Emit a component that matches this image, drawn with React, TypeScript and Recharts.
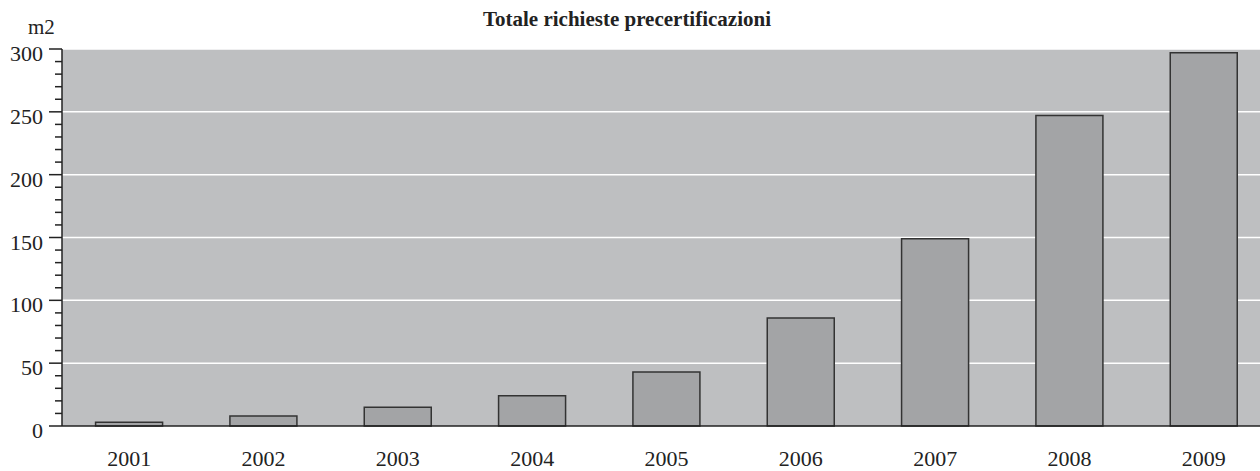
import { BarChart, Bar, XAxis, YAxis, CartesianGrid } from 'recharts';

const years = ['2001', '2002', '2003', '2004', '2005', '2006', '2007', '2008', '2009'];
const richieste = [3, 8, 15, 24, 43, 86, 149, 247, 297];
const yTicks = [0, 10, 20, 30, 40, 50, 60, 70, 80, 90, 100, 110, 120, 130, 140, 150, 160, 170, 180, 190, 200, 210, 220, 230, 240, 250, 260, 270, 280, 290, 300];
const gridValues = [50, 100, 150, 200, 250, 300];

const FONT = '"Liberation Serif", "Times New Roman", serif';

const data = years.map((y, i) => ({ year: y, value: richieste[i] }));

// left axis: long tick + label on multiples of 50, short tick otherwise
function YTick(props: any) {
  const { x, y, payload } = props;
  const v = payload.value as number;
  const major = v % 50 === 0;
  return (
    <g>
      <line x1={x - (major ? 13 : 7)} x2={x} y1={y} y2={y} stroke="#222" strokeWidth={1.5} />
      {major && (
        <text x={x - 19} y={y + 12} textAnchor="end" fontSize={22} fontFamily={FONT} fill="#222">
          {v}
        </text>
      )}
    </g>
  );
}

export default function App() {
  return (
    <div style={{ position: 'fixed', left: 0, top: 0, width: 1260, height: 471, overflow: 'hidden', background: '#fff' }}>
      <div style={{ position: 'absolute', left: 0, top: 7, width: 1254, textAlign: 'center', fontFamily: FONT, fontWeight: 'bold', fontSize: 21, color: '#222', lineHeight: '24px' }}>
        Totale richieste precertificazioni
      </div>
      <div style={{ position: 'absolute', left: 28, top: 15, fontFamily: FONT, fontSize: 21, color: '#222', lineHeight: '24px' }}>
        m2
      </div>
      <div style={{ position: 'absolute', left: 0, top: 0 }}>
        <BarChart width={1280} height={471} data={data} margin={{ top: 49, right: 9, bottom: 0, left: 0 }} barCategoryGap="25%">
          <CartesianGrid vertical={false} horizontalValues={gridValues} stroke="#ffffff" strokeWidth={1.5} fill="#bebfc1" fillOpacity={1} />
          <XAxis
            dataKey="year"
            height={45}
            tickLine={false}
            tickSize={0}
            tickMargin={24}
            axisLine={{ stroke: '#222', strokeWidth: 1.5 }}
            tick={{ fontSize: 22, fontFamily: FONT, fill: '#222' }}
          />
          <YAxis
            width={62}
            domain={[0, 300]}
            ticks={yTicks}
            interval={0}
            tickLine={false}
            tickSize={0}
            tickMargin={0}
            axisLine={{ stroke: '#222', strokeWidth: 1.5 }}
            tick={<YTick />}
          />
          <Bar dataKey="value" fill="#a3a4a6" stroke="#333" strokeWidth={1.5} isAnimationActive={false} />
        </BarChart>
      </div>
    </div>
  );
}
